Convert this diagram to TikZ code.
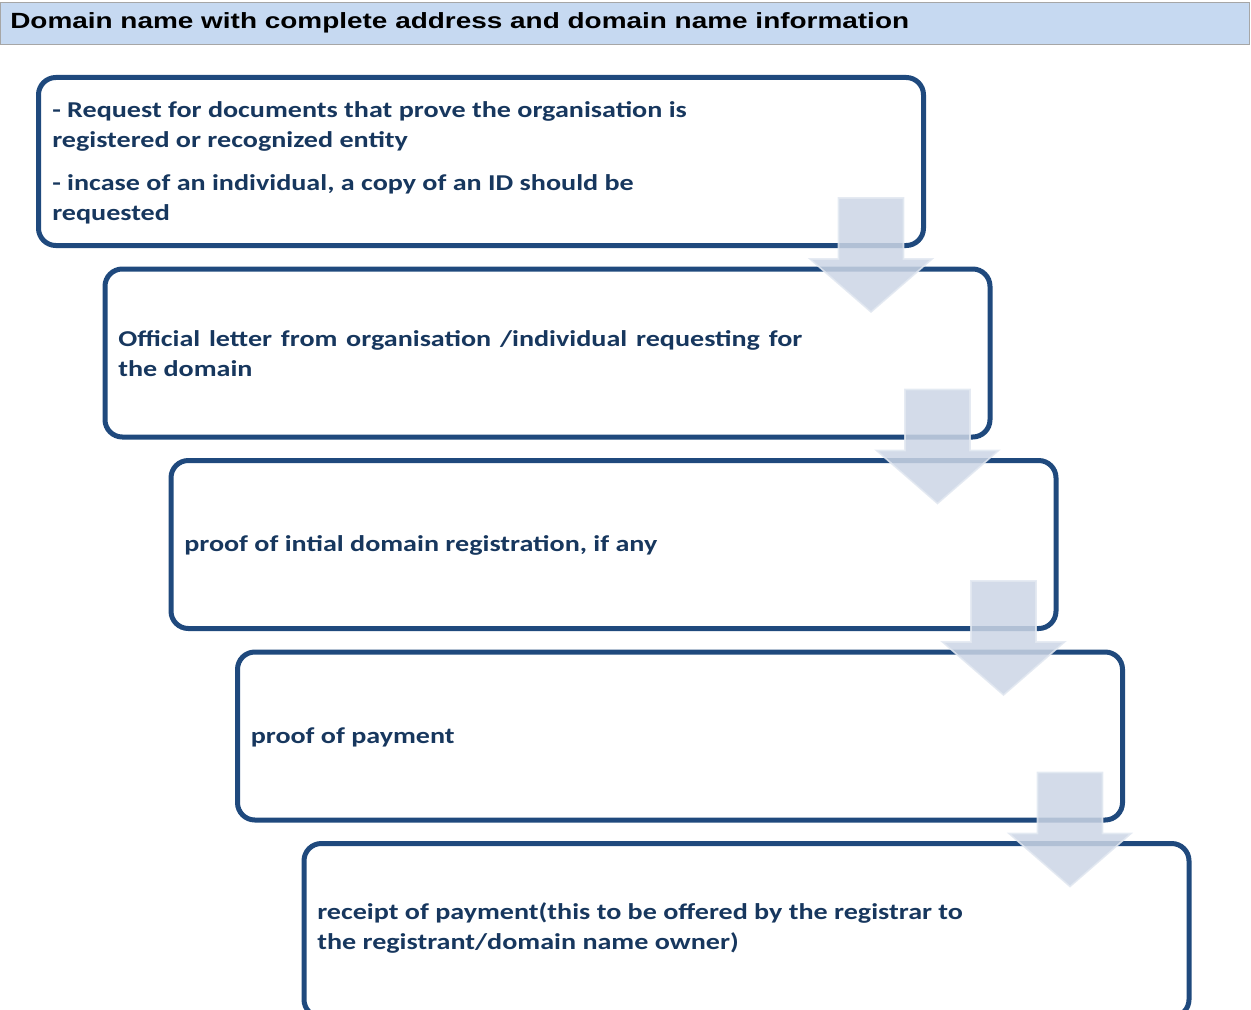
\documentclass[tikz,border=0pt]{standalone}
\usepackage{fontspec}
\setmainfont{Carlito}[FakeStretch=1.24]
\newfontfamily\hdrfont{Liberation Sans}[FakeStretch=1.27]
\usetikzlibrary{calc}
\definecolor{boxline}{HTML}{1F497D}
\definecolor{boxtext}{HTML}{17375E}
\definecolor{hdrfill}{HTML}{C6D9F1}
\definecolor{hdredge}{HTML}{A6A6A6}
\definecolor{arrfill}{HTML}{CBD5E5}
\definecolor{arredge}{HTML}{E2E8F1}
\newcommand\flowarrow[1]{%
  \path[downarrow] ($(#1.south east)+(-85,-47.5)$) -- ++(65,0) -- ++(0,61) -- ++(28.5,0)
    -- ++(-61,53) -- ++(-61,-53) -- ++(28.5,0) -- cycle;}
\begin{document}
\begin{tikzpicture}[x=0.75pt,y=-0.75pt,
  stepbox/.style={draw=boxline, line width=3.75pt, rounded corners=13pt, outer sep=0pt,
    minimum width=663.75pt, minimum height=126pt, inner sep=0pt, anchor=north west},
  boxtxt/.style={anchor=west, align=left, inner sep=0pt, text=boxtext,
    font=\bfseries\fontsize{17}{22.5}\selectfont},
  downarrow/.style={fill=arrfill, draw=arredge, line width=1.2pt,
    fill opacity=0.85, draw opacity=0.85}]
\useasboundingbox (0,0) rectangle (1251,1009);
\clip (0,0) rectangle (1251,1009);
% header
\node[draw=hdredge, fill=hdrfill, line width=0.75pt, minimum width=936.75pt, outer sep=0pt,
  minimum height=31.5pt, inner sep=0pt, anchor=north west] (hdr) at (0,3) {};
\node[anchor=base west, inner sep=0pt, font=\hdrfont\bfseries\fontsize{16.5}{19}\selectfont]
  (hdrtxt) at (10,29) {Domain name with complete address and domain name information};
% boxes
\node[stepbox] (b1) at (38.5,77.5) {};
\node[stepbox] (b2) at (105,269) {};
\node[stepbox] (b3) at (171,460.5) {};
\node[stepbox] (b4) at (237.5,652) {};
\node[stepbox, minimum height=130pt] (b5) at (304,843.5) {};
% texts
\node[boxtxt] (t1) at ($(b1.west)+(13.5,1)$) {- Request for documents that prove the organisation is\\
  registered or recognized entity\\[9.75pt]
  - incase of an individual, a copy of an ID should be\\
  requested};
\node[boxtxt] (t2) at ($(b2.west)+(13,1)$) {\makebox[513pt][s]{Official letter from organisation /individual requesting for}\\
  the domain};
\node[boxtxt] (t3) at ($(b3.west)+(13,1)$) {proof of intial domain registration, if any};
\node[boxtxt] (t4) at ($(b4.west)+(13,1)$) {proof of payment};
\node[boxtxt] (t5) at ($(b5.west)+(13,-2)$) {receipt of payment(this to be offered by the registrar to\\
  the registrant/domain name owner)};
% arrows
\flowarrow{b1}
\flowarrow{b2}
\flowarrow{b3}
\flowarrow{b4}
\end{tikzpicture}
\end{document}
